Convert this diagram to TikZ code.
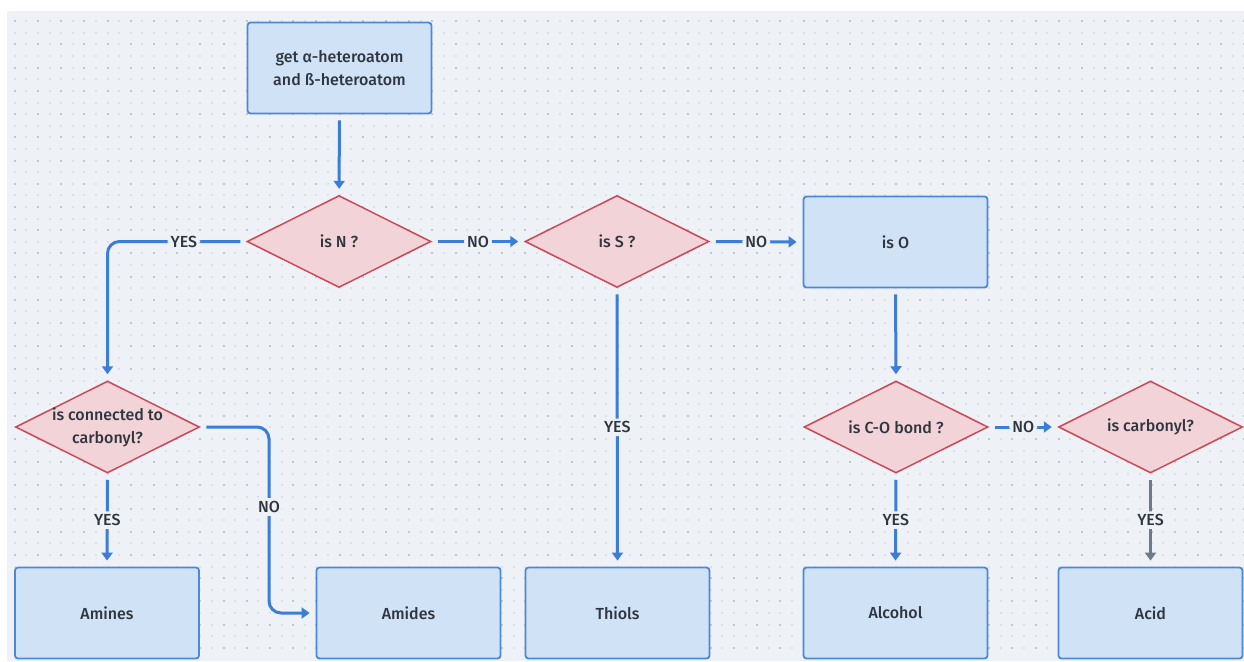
\documentclass[tikz,border=0pt]{standalone}
\usepackage{fontspec}
\setmainfont{Fira Sans}[UprightFont=* Medium]
\usetikzlibrary{arrows.meta,shapes.geometric}
\definecolor{bg}{HTML}{EEF1F6}
\definecolor{dotc}{HTML}{DCE0E7}
\definecolor{dotd}{HTML}{C2C8D1}
\definecolor{boxfill}{HTML}{D0E2F6}
\definecolor{boxdraw}{HTML}{4A88DA}
\definecolor{dfill}{HTML}{F2D3D8}
\definecolor{ddraw}{HTML}{CB4A5A}
\definecolor{arrc}{HTML}{3B7DD8}
\definecolor{grayarr}{HTML}{6E7A88}
\definecolor{txt}{HTML}{30363F}
\begin{document}
\begin{tikzpicture}[x=1pt,y=-1pt,
  every node/.style={text=txt, font=\fontsize{16}{23}\selectfont},
  boxn/.style={rectangle, draw=boxdraw, line width=1.8pt, fill=boxfill, rounded corners=3pt,
    minimum width=184pt, minimum height=91pt, align=center},
  dia/.style={diamond, draw=ddraw, line width=1.5pt, fill=dfill, shape aspect=2,
    minimum width=184pt, minimum height=92pt, inner sep=0pt, align=center},
  arr/.style={draw=arrc, line width=3pt, -{Triangle[width=11pt,length=8pt]},
    rounded corners=12pt, shorten <=6pt, shorten >=6pt},
  grayarrow/.style={arr, draw=grayarr},
  lab/.style={fill=bg, inner sep=3pt}
]
\useasboundingbox (0,0) rectangle (1244,661);
\fill[bg] (7,11) rectangle (1244,661);
\foreach \i in {0,...,54} {
  \pgfmathsetmacro{\yy}{21.3+11.6*\i}
  \draw[dotc, line width=2pt, dash pattern=on 2pt off 9.6pt] (13.7,\yy) -- (1244,\yy);
}
\foreach \i in {0,...,27} {
  \pgfmathsetmacro{\yy}{21.3+23.2*\i}
  \draw[dotd, line width=2pt, dash pattern=on 2pt off 21.2pt] (13.7,\yy) -- (1244,\yy);
}

\node[boxn] (top) at (339.5,68) {get α-heteroatom\\and ß-heteroatom};
\node[dia] (isN) at (339,241.5) {is N ?};
\node[dia] (isS) at (617,241.5) {is S ?};
\node[boxn] (isO) at (895.5,242) {is O};
\node[dia, label={[align=center]center:is connected to\\carbonyl?}] (cd) at (107.5,427) {};
\node[dia] (co) at (896,427) {is C-O bond ?};
\node[dia] (carb) at (1150.5,427) {is carbonyl?};
\node[boxn] (amines) at (107,613) {Amines};
\node[boxn] (amides) at (408.5,613) {Amides};
\node[boxn] (thiols) at (617.5,613) {Thiols};
\node[boxn] (alcohol) at (895.5,613) {Alcohol};
\node[boxn] (acid) at (1150.5,613) {Acid};
\coordinate (bend) at (269,427);

\draw[arr] (top) -- (isN);
\draw[arr] (isN.east) -- node[lab]{NO} (isS.west);
\draw[arr] (isS.east) -- node[lab]{NO} (isO.west);
\draw[arr] (isN.west) -| node[lab,pos=0.225]{YES} (cd.north);
\draw[arr] (cd.south) -- node[lab]{YES} (amines.north);
\draw[arr] (cd.east) -- (bend) |- node[lab,pos=0.215]{NO} (amides.west);
\draw[arr] (isS.south) -- node[lab]{YES} (thiols.north);
\draw[arr] (isO.south) -- (co.north);
\draw[arr] (co.east) -- node[lab]{NO} (carb.west);
\draw[arr] (co.south) -- node[lab]{YES} (alcohol.north);
\draw[grayarrow] (carb.south) -- node[lab]{YES} (acid.north);
\end{tikzpicture}
\end{document}
